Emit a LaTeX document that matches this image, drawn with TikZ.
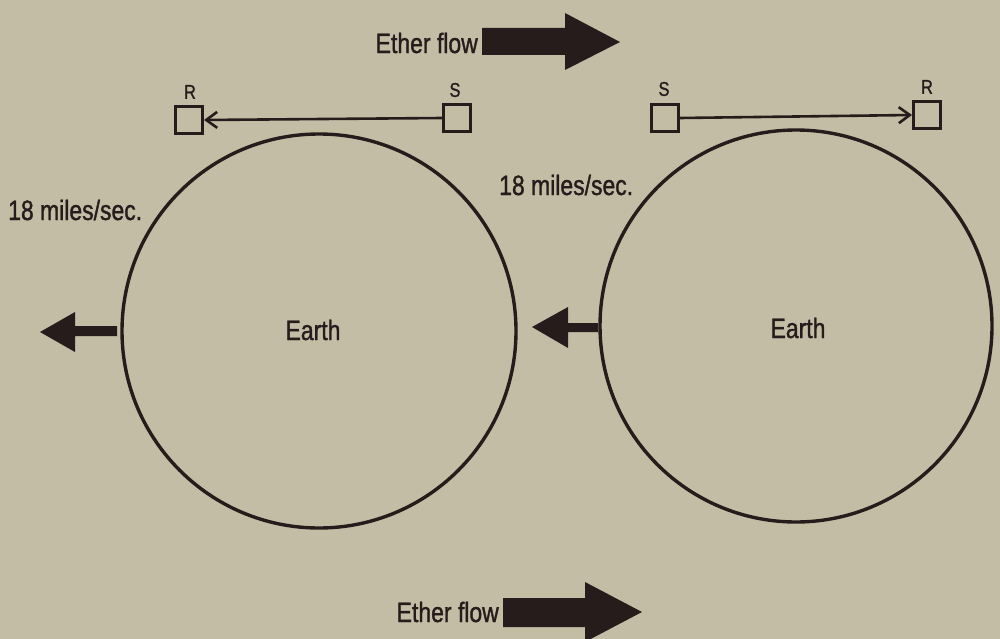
\documentclass[tikz,border=0pt]{standalone}
\usepackage{fontspec}
\setmainfont{Liberation Sans}[FakeStretch=0.82,FakeBold=1.2]
\usetikzlibrary{arrows.meta}
\definecolor{paper}{RGB}{196,189,166}
\definecolor{ink}{RGB}{38,28,28}
\tikzset{
  lbl/.style={text=ink,font=\fontsize{28}{30}\selectfont,inner sep=0pt},
  small/.style={text=ink,font=\fontsize{20}{22}\selectfont,inner sep=0pt},
  box/.style={draw=ink,line width=3pt,minimum size=27pt,inner sep=0pt},
  earth/.style={draw=ink,line width=3.4pt,circle,inner sep=0pt},
  beam/.style={draw=ink,line width=2.6pt,-{Straight Barb[length=11pt,width=16pt,line width=2.6pt]}},
  blk/.style={fill=ink,draw=none}
}
\begin{document}
\begin{tikzpicture}[x=1pt,y=-1pt]
\fill[paper] (0,0) rectangle (1000,639);
\useasboundingbox (0,0) rectangle (1000,639);
% earths
\node[earth,minimum size=394pt] (e1) at (319,331) {};
\node[earth,minimum size=392pt] (e2) at (796,326) {};
\node[lbl] (t1) at (313,330) {Earth};
\node[lbl] (t2) at (798,328) {Earth};
% boxes
\node[box] (r1) at (189,120) {};
\node[box] (s1) at (457,118) {};
\node[box] (s2) at (665,118) {};
\node[box] (r2) at (927,115) {};
\node[small] (lr1) at (190,92) {R};
\node[small] (ls1) at (455,90) {S};
\node[small] (ls2) at (664,89) {S};
\node[small] (lr2) at (927,87) {R};
\draw[beam] (s1.west) -- (r1.east);
\draw[beam] (s2.east) -- (r2.west);
% speeds
\node[lbl,anchor=west] (v1) at (8,210) {18 miles/sec.};
\node[lbl,anchor=west] (v2) at (499,185) {18 miles/sec.};
% ether flow
\node[lbl,anchor=east] (f1) at (478,43) {Ether flow};
\node[lbl,anchor=east] (f2) at (499,612) {Ether flow};
\fill[blk] (482,28) -- (565,28) -- (565,13) -- (620,42) -- (565,70) -- (565,55) -- (482,55) -- cycle;
\fill[blk] (503,598) -- (585,598) -- (585,582) -- (642,612) -- (585,642) -- (585,627) -- (503,627) -- cycle;
% motion arrows
\fill[blk] (117,326) -- (75,326) -- (75,312) -- (40,332) -- (75,352) -- (75,336) -- (117,336) -- cycle;
\fill[blk] (598,323) -- (568,323) -- (568,307) -- (532,327) -- (568,348) -- (568,332) -- (598,332) -- cycle;
\end{tikzpicture}
\end{document}
